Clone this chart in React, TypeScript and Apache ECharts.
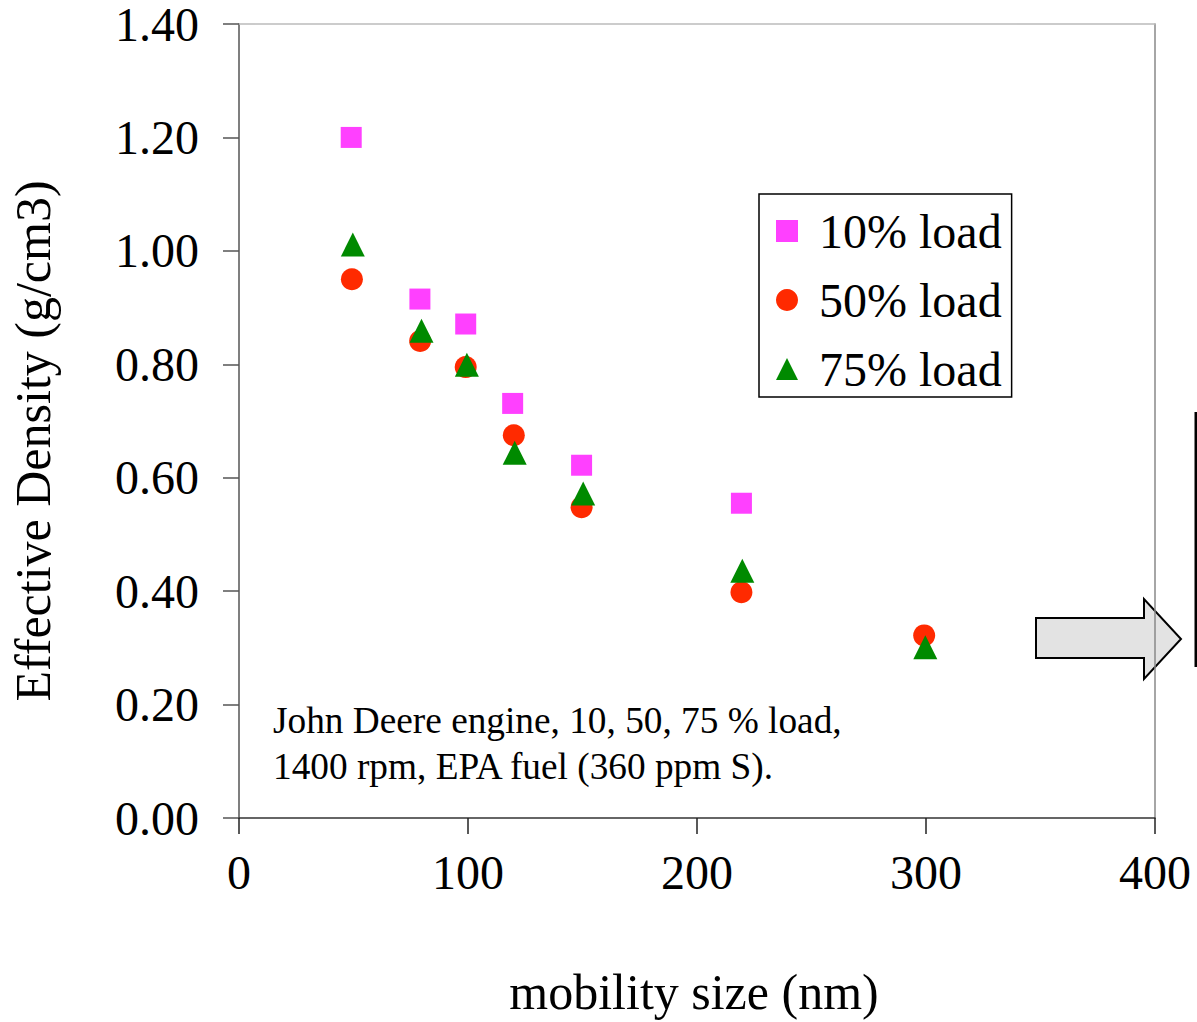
import React, { useEffect, useRef } from "react";
import * as echarts from "echarts";

const seriesNames = ["10% load", "50% load", "75% load"];
const load10X = [49, 79, 99, 119.5, 149.6, 219.4];
const load10Y = [1.2, 0.915, 0.871, 0.731, 0.622, 0.555];
const load50X = [49.3, 79.1, 99, 120, 149.6, 219.4, 299.2];
const load50Y = [0.95, 0.841, 0.795, 0.675, 0.548, 0.398, 0.322];
const load75X = [49.7, 79.7, 99.5, 120.4, 150.3, 219.8, 299.7];
const load75Y = [1.011, 0.859, 0.799, 0.644, 0.572, 0.436, 0.301];
const xTicks = [0, 100, 200, 300, 400];
const yTickStep = 0.2;
const annotationLines = [
  "John Deere engine, 10, 50, 75 % load,",
  "1400 rpm, EPA fuel (360 ppm S).",
];

const FONT = "'Liberation Serif', 'Times New Roman', serif";

function pairs(xs: number[], ys: number[]) {
  return xs.map((x, i) => [x, ys[i]]);
}

export default function App() {
  const ref = useRef<HTMLDivElement>(null);
  useEffect(() => {
    if (!ref.current) return;
    const chart = echarts.init(ref.current, null, { renderer: "svg" });
    const axisBase = {
      type: "value" as const,
      splitLine: { show: false },
    };
    chart.setOption({
      animation: false,
      backgroundColor: "#ffffff",
      textStyle: { fontFamily: FONT },
      grid: { left: 238, top: 24, right: 42, bottom: 197, containLabel: false },
      xAxis: [
        {
          ...axisBase,
          min: xTicks[0],
          max: xTicks[xTicks.length - 1],
          interval: 100,
          position: "bottom",
          name: "mobility size (nm)",
          nameLocation: "middle",
          nameGap: 149,
          nameTextStyle: { fontFamily: FONT, fontSize: 50, color: "#000", padding: [0, 6, 0, 0] },
          axisLine: { show: true, onZero: false, lineStyle: { color: "#333", width: 1.5 } },
          axisTick: { show: true, inside: false, length: 16, lineStyle: { color: "#222", width: 1.5 } },
          axisLabel: { fontFamily: FONT, fontSize: 48, color: "#000", margin: 30 },
        },
        {
          ...axisBase,
          min: xTicks[0],
          max: xTicks[xTicks.length - 1],
          position: "top",
          axisLine: { show: true, onZero: false, lineStyle: { color: "#bbbbbb", width: 1.5 } },
          axisTick: { show: false },
          axisLabel: { show: false },
        },
      ],
      yAxis: [
        {
          ...axisBase,
          min: 0,
          max: 1.4,
          interval: yTickStep,
          position: "left",
          name: "Effective Density (g/cm3)",
          nameLocation: "middle",
          nameGap: 181,
          nameRotate: 90,
          nameTextStyle: { fontFamily: FONT, fontSize: 50, color: "#000", padding: [0, 40, 0, 0] },
          axisLine: { show: true, onZero: false, lineStyle: { color: "#555", width: 1.5 } },
          axisTick: { show: true, inside: false, length: 16, lineStyle: { color: "#555", width: 1.5 } },
          axisLabel: {
            fontFamily: FONT,
            fontSize: 48,
            lineHeight: 40,
            color: "#000",
            margin: 40,
            formatter: (v: number) => v.toFixed(2),
          },
        },
        {
          ...axisBase,
          min: 0,
          max: 1.4,
          position: "right",
          axisLine: { show: true, onZero: false, lineStyle: { color: "#888", width: 1.5 } },
          axisTick: { show: false },
          axisLabel: { show: false },
        },
      ],
      legend: {
        orient: "vertical",
        left: 759,
        top: 194,
        padding: [13, 10, 4, 17],
        itemGap: 21,
        itemWidth: 22,
        itemHeight: 22,
        borderColor: "#000",
        borderWidth: 1.5,
        backgroundColor: "#fff",
        data: seriesNames,
        textStyle: {
          fontFamily: FONT,
          fontSize: 48,
          color: "#000",
          padding: [0, 0, 0, 16],
        },
      },
      series: [
        {
          name: seriesNames[0],
          type: "scatter",
          symbol: "rect",
          symbolSize: 21,
          itemStyle: { color: "#FF40FF", opacity: 1 },
          data: pairs(load10X, load10Y),
          z: 2,
        },
        {
          name: seriesNames[1],
          type: "scatter",
          symbol: "circle",
          symbolSize: 22,
          itemStyle: { color: "#FF2A00", opacity: 1 },
          data: pairs(load50X, load50Y),
          z: 3,
        },
        {
          name: seriesNames[2],
          type: "scatter",
          symbol: "triangle",
          symbolSize: 24,
          itemStyle: { color: "#008A00", opacity: 1 },
          data: pairs(load75X, load75Y),
          z: 4,
        },
      ],
      graphic: [
        {
          type: "text",
          x: 273,
          y: 697,
          style: {
            text: annotationLines.join("\n"),
            fontFamily: FONT,
            fontSize: 37.3,
            lineHeight: 46,
            fill: "#000",
            textVerticalAlign: "top",
          },
        },
        {
          type: "polygon",
          shape: {
            points: [
              [1036, 618],
              [1144, 618],
              [1144, 599],
              [1181, 639],
              [1144, 679],
              [1144, 658],
              [1036, 658],
            ],
          },
          style: { fill: "#e3e3e3", stroke: "#000", lineWidth: 2 },
        },
        {
          type: "line",
          shape: { x1: 1196, y1: 412, x2: 1196, y2: 667 },
          style: { stroke: "#000", lineWidth: 3 },
        },
      ],
    });
    return () => chart.dispose();
  }, []);
  return (
    <div
      ref={ref}
      style={{ position: "fixed", left: 0, top: 0, width: 1197, height: 1022 }}
    />
  );
}
